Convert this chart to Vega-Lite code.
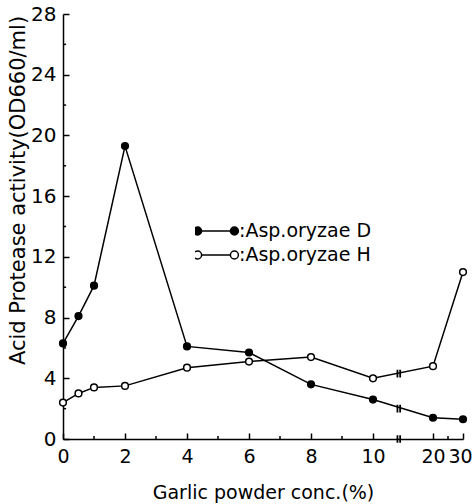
{
  "$schema": "https://vega.github.io/schema/vega-lite/v6.json",
  "width": 400,
  "height": 425,
  "autosize": "none",
  "padding": {"left": 63, "top": 14, "right": 11, "bottom": 65},
  "background": "white",
  "config": {
    "view": {"stroke": null},
    "font": "DejaVu Sans",
    "axis": {"domainColor": "black", "domainWidth": 1.5, "tickColor": "black", "tickWidth": 1.5, "labelColor": "black", "titleColor": "black", "grid": false, "labelFont": "DejaVu Sans", "titleFont": "DejaVu Sans", "titleFontWeight": "normal", "labelOverlap": false, "labelFlush": false}
  },
  "datasets": {
    "main": [
      {"conc": 0, "activity": 6.3, "strain": "Asp.oryzae D"},
      {"conc": 0.5, "activity": 8.1, "strain": "Asp.oryzae D"},
      {"conc": 1, "activity": 10.1, "strain": "Asp.oryzae D"},
      {"conc": 2, "activity": 19.3, "strain": "Asp.oryzae D"},
      {"conc": 4, "activity": 6.1, "strain": "Asp.oryzae D"},
      {"conc": 6, "activity": 5.7, "strain": "Asp.oryzae D"},
      {"conc": 8, "activity": 3.6, "strain": "Asp.oryzae D"},
      {"conc": 10, "activity": 2.6, "strain": "Asp.oryzae D"},
      {"conc": 20, "activity": 1.4, "strain": "Asp.oryzae D"},
      {"conc": 30, "activity": 1.3, "strain": "Asp.oryzae D"},
      {"conc": 0, "activity": 2.4, "strain": "Asp.oryzae H"},
      {"conc": 0.5, "activity": 3.0, "strain": "Asp.oryzae H"},
      {"conc": 1, "activity": 3.4, "strain": "Asp.oryzae H"},
      {"conc": 2, "activity": 3.5, "strain": "Asp.oryzae H"},
      {"conc": 4, "activity": 4.7, "strain": "Asp.oryzae H"},
      {"conc": 6, "activity": 5.1, "strain": "Asp.oryzae H"},
      {"conc": 8, "activity": 5.4, "strain": "Asp.oryzae H"},
      {"conc": 10, "activity": 4.0, "strain": "Asp.oryzae H"},
      {"conc": 20, "activity": 4.8, "strain": "Asp.oryzae H"},
      {"conc": 30, "activity": 11.0, "strain": "Asp.oryzae H"}
    ],
    "breaks": [
      {"conc": 14.3, "activity": 0},
      {"conc": 14.3, "activity": 2.0},
      {"conc": 14.3, "activity": 4.3}
    ],
    "minorx": [
      {"conc": 1, "activity": 0, "top": 0.2},
      {"conc": 3, "activity": 0, "top": 0.2},
      {"conc": 5, "activity": 0, "top": 0.2},
      {"conc": 7, "activity": 0, "top": 0.2},
      {"conc": 9, "activity": 0, "top": 0.2},
      {"conc": 25, "activity": 0, "top": 0.2}
    ],
    "minory": [
      {"conc": 0, "right": 0.1, "activity": 2},
      {"conc": 0, "right": 0.1, "activity": 6},
      {"conc": 0, "right": 0.1, "activity": 10},
      {"conc": 0, "right": 0.1, "activity": 14},
      {"conc": 0, "right": 0.1, "activity": 18},
      {"conc": 0, "right": 0.1, "activity": 22},
      {"conc": 0, "right": 0.1, "activity": 26}
    ]
  },
  "layer": [
    {
      "data": {"name": "main"},
      "mark": {"type": "line", "color": "black", "strokeWidth": 1.5},
      "encoding": {
        "x": {"field": "conc", "type": "quantitative",
          "scale": {"domain": [0, 10, 20, 30], "range": [0, 310, 370, 400], "nice": false, "zero": false},
          "axis": {
            "values": [0, 2, 4, 6, 8, 10, 20, 30],
            "labelOverlap": false,
            "tickSize": -6,
            "labelPadding": 14,
            "labelFontSize": 19,
            "labelOffset": {"condition": {"test": "datum.value === 30", "value": -3}, "value": 0},
            "title": "Garlic powder conc.(%)",
            "titleFontSize": 19,
            "titlePadding": 17
          }
        },
        "y": {"field": "activity", "type": "quantitative",
          "scale": {"domain": [0, 28], "nice": false},
          "axis": {
            "values": [0, 4, 8, 12, 16, 20, 24, 28],
            "tickSize": -6,
            "labelPadding": 13,
            "labelFontSize": 20,
            "title": "Acid Protease activity(OD660/ml)",
            "titleFontSize": 21,
            "titleX": -45,
            "titleY": 176,
            "titleAngle": -90,
            "titleAlign": "center",
            "titleBaseline": "middle"
          }
        },
        "detail": {"field": "strain"}
      }
    },
    {
      "data": {"name": "minorx"},
      "mark": {"type": "rule", "color": "black", "strokeWidth": 1.5},
      "encoding": {
        "x": {"field": "conc", "type": "quantitative"},
        "y": {"field": "activity", "type": "quantitative"},
        "y2": {"field": "top"}
      }
    },
    {
      "data": {"name": "minory"},
      "mark": {"type": "rule", "color": "black", "strokeWidth": 1.5},
      "encoding": {
        "x": {"field": "conc", "type": "quantitative"},
        "x2": {"field": "right"},
        "y": {"field": "activity", "type": "quantitative"}
      }
    },
    {
      "data": {"name": "main"},
      "mark": {"type": "point", "shape": "circle", "filled": true, "stroke": "black", "strokeWidth": 1.5, "size": 45, "opacity": 1},
      "encoding": {
        "x": {"field": "conc", "type": "quantitative"},
        "y": {"field": "activity", "type": "quantitative"},
        "fill": {"field": "strain", "type": "nominal",
          "scale": {"domain": ["Asp.oryzae D", "Asp.oryzae H"], "range": ["black", "white"]},
          "legend": {
            "orient": "none", "legendX": 132, "legendY": 208, "title": null,
            "symbolType": "M-0.72,0L0.72,0M-0.72,0A0.2,0.2 0 1,1 -1.12,0A0.2,0.2 0 1,1 -0.72,0ZM1.12,0A0.2,0.2 0 1,1 0.72,0A0.2,0.2 0 1,1 1.12,0Z",
            "symbolSize": 1600,
            "symbolStrokeColor": "black",
            "symbolStrokeWidth": 1.5,
            "symbolOpacity": 1,
            "clipHeight": 18,
            "rowPadding": 5,
            "labelExpr": "':' + datum.label",
            "labelFontSize": 19,
            "labelColor": "black",
            "labelOffset": 2
          }
        }
      }
    },
    {
      "data": {"name": "breaks"},
      "mark": {"type": "point", "shape": "M-0.35,-1L-0.35,1M0.35,-1L0.35,1", "filled": false, "stroke": "black", "strokeWidth": 1.8, "size": 60, "opacity": 1},
      "encoding": {
        "x": {"field": "conc", "type": "quantitative"},
        "y": {"field": "activity", "type": "quantitative"}
      }
    }
  ]
}
